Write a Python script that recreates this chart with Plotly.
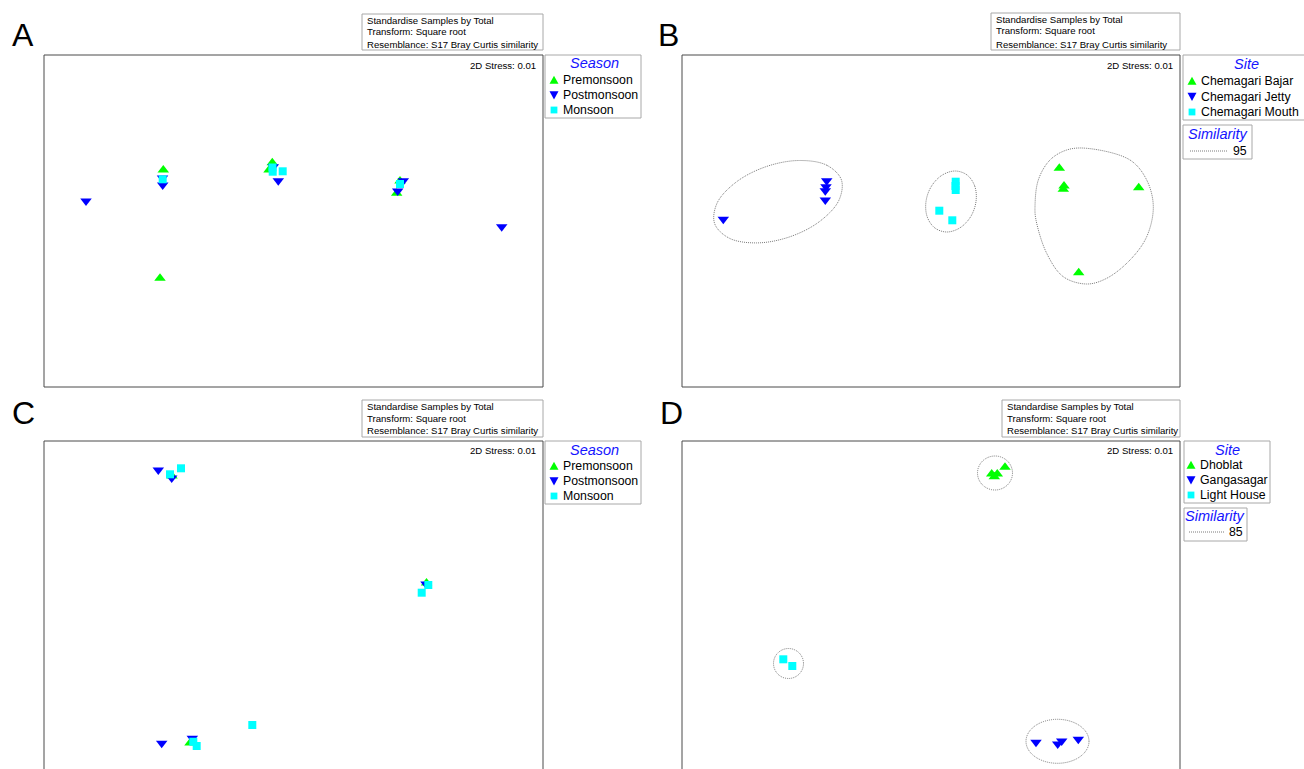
import plotly.graph_objects as go

W, H = 1304, 769
FONT = "Arial, Liberation Sans, sans-serif"
GREEN, BLUE, CYAN = "#00ff00", "#0000ff", "#00ffff"

# ---------------- data (nMDS coordinates) ----------------
# Panel A : Season
a_pre_x = [-1.302, -0.212, -0.245, 1.032, 1.065, -1.335]
a_pre_y = [0.510, 0.583, 0.510, 0.277, 0.400, -0.573]
a_post_x = [-1.308, -1.310, -0.202, -0.152, 1.098, 1.042, 2.082, -2.075]
a_post_y = [0.360, 0.430, 0.543, 0.403, 0.403, 0.300, -0.057, 0.200]
a_mon_x = [-1.308, -0.210, -0.208, -0.108, 1.065]
a_mon_y = [0.417, 0.535, 0.493, 0.497, 0.370]

# Panel B : Site (Chemagari)
b_bajar_x = [1.283, 1.330, 1.323, 2.077, 1.477]
b_bajar_y = [0.527, 0.350, 0.317, 0.333, -0.517]
b_jetty_x = [-1.043, -1.050, -1.057, -1.057, -2.077]
b_jetty_y = [0.403, 0.343, 0.303, 0.210, 0.017]
b_mouth_x = [0.247, 0.245, 0.247, 0.083, 0.213]
b_mouth_y = [0.393, 0.350, 0.310, 0.103, 0.007]
# 95 % similarity contours (panel B)
b_c_jetty_x = [-0.896, -1.041, -1.317, -1.651, -1.951, -2.139, -2.164, -2.019, -1.742, -1.409, -1.109, -0.921]
b_c_jetty_y = [0.411, 0.557, 0.605, 0.543, 0.387, 0.179, -0.025, -0.171, -0.219, -0.157, -0.001, 0.207]
b_c_mouth_x = [0.450, 0.438, 0.362, 0.243, 0.112, 0.004, -0.050, -0.038, 0.038, 0.157, 0.288, 0.396]
b_c_mouth_y = [0.195, 0.347, 0.459, 0.500, 0.459, 0.347, 0.195, 0.042, -0.069, -0.110, -0.069, 0.042]
b_c_bajar_x = [1.557, 1.990, 2.157, 2.223, 2.157, 1.990, 1.757, 1.557, 1.323, 1.157, 1.050, 1.040, 1.073, 1.190, 1.357]
b_c_bajar_y = [0.727, 0.610, 0.410, 0.143, -0.157, -0.390, -0.573, -0.630, -0.557, -0.323, 0.010, 0.143, 0.410, 0.610, 0.710]

# Panel C : Season
c_pre_x = [-1.215, 1.330, -1.035]
c_pre_y = [1.310, 0.240, -1.360]
c_post_x = [-1.352, -1.218, 1.325, -1.318, -1.012]
c_post_y = [1.370, 1.290, 0.230, -1.363, -1.313]
c_mon_x = [-1.235, -1.125, 1.348, 1.282, -1.002, -0.968, -0.412]
c_mon_y = [1.327, 1.387, 0.220, 0.143, -1.347, -1.390, -1.180]

# Panel D : Site (Sagar)
d_dhob_x = [0.607, 0.633, 0.663, 0.740]
d_dhob_y = [1.330, 1.303, 1.330, 1.397]
d_gang_x = [1.050, 1.267, 1.307, 1.473]
d_gang_y = [-1.353, -1.370, -1.340, -1.323]
d_light_x = [-1.477, -1.387]
d_light_y = [-0.523, -0.590]
# 85 % similarity contours (panel D): centre x, centre y, half-width, half-height
d_contours = [(0.640, 1.340, 0.175, 0.170), (1.265, -1.343, 0.315, 0.220), (-1.425, -0.565, 0.150, 0.150)]

season_labels = ["Premonsoon", "Postmonsoon", "Monsoon"]
site_b_labels = ["Chemagari Bajar", "Chemagari Jetty", "Chemagari Mouth"]
site_d_labels = ["Dhoblat", "Gangasagar", "Light House"]
info_lines = ["Standardise Samples by Total", "Transform: Square root",
              "Resemblance: S17 Bray Curtis similarity"]
stress_text = "2D Stress: 0.01"
sim_b, sim_d = "95", "85"

# ---------------- figure ----------------
def PX(x):
    return x / W


def PY(y):
    return 1 - y / H


fig = go.Figure()
shapes, annos = [], []
CONTOUR = dict(color="#7a7a7a", width=1, dash="1px,1px")

def pts(xs, ys, sym, col, size, ax):
    fig.add_trace(go.Scatter(x=xs, y=ys, mode="markers", showlegend=False, hoverinfo="skip",
                             marker=dict(symbol=sym, color=col, size=size, line=dict(width=0)),
                             xaxis="x" + ax, yaxis="y" + ax))

def contour(xs, ys, ax):
    fig.add_trace(go.Scatter(x=list(xs) + [xs[0]], y=list(ys) + [ys[0]], mode="lines",
                             showlegend=False, hoverinfo="skip",
                             line=dict(shape="spline", smoothing=1, **CONTOUR),
                             xaxis="x" + ax, yaxis="y" + ax))

TRI, SQ = 10, 8
# A
pts(a_pre_x, a_pre_y, "triangle-up", GREEN, TRI, "")
pts(a_post_x, a_post_y, "triangle-down", BLUE, TRI, "")
pts(a_mon_x, a_mon_y, "square", CYAN, SQ, "")
# B
contour(b_c_jetty_x, b_c_jetty_y, "2")
contour(b_c_mouth_x, b_c_mouth_y, "2")
contour(b_c_bajar_x, b_c_bajar_y, "2")
pts(b_bajar_x, b_bajar_y, "triangle-up", GREEN, TRI, "2")
pts(b_jetty_x, b_jetty_y, "triangle-down", BLUE, TRI, "2")
pts(b_mouth_x, b_mouth_y, "square", CYAN, SQ, "2")
# C
pts(c_pre_x, c_pre_y, "triangle-up", GREEN, TRI, "3")
pts(c_post_x, c_post_y, "triangle-down", BLUE, TRI, "3")
pts(c_mon_x, c_mon_y, "square", CYAN, SQ, "3")
# D
for cx, cy, rx, ry in d_contours:
    shapes.append(dict(type="circle", xref="x4", yref="y4", x0=cx - rx, x1=cx + rx,
                       y0=cy - ry, y1=cy + ry, line=CONTOUR))
pts(d_dhob_x, d_dhob_y, "triangle-up", GREEN, TRI, "4")
pts(d_gang_x, d_gang_y, "triangle-down", BLUE, TRI, "4")
pts(d_light_x, d_light_y, "square", CYAN, SQ, "4")

def text(x, y, s, size, color="black", xanchor="left"):
    annos.append(dict(x=PX(x), y=PY(y), xref="paper", yref="paper", text=s, showarrow=False,
                      xanchor=xanchor, yanchor="middle", font=dict(family=FONT, size=size, color=color)))

def box(x0, y0, x1, y1, color="#a8a8a8", fill="white"):
    shapes.append(dict(type="rect", xref="paper", yref="paper", x0=PX(x0), x1=PX(x1), y0=PY(y0), y1=PY(y1),
                       line=dict(color=color, width=1), fillcolor=fill, layer="above"))

def sym(kind, cx, cy, col):
    if kind == "up":
        p = [(cx - 4.5, cy + 3.8), (cx + 4.5, cy + 3.8), (cx, cy - 4.2)]
    elif kind == "down":
        p = [(cx - 4.5, cy - 3.8), (cx + 4.5, cy - 3.8), (cx, cy + 4.4)]
    else:
        p = [(cx - 3.4, cy - 3.4), (cx + 3.4, cy - 3.4), (cx + 3.4, cy + 3.4), (cx - 3.4, cy + 3.4)]
    path = "M " + " L ".join(f"{PX(a):.5f},{PY(b):.5f}" for a, b in p) + " Z"
    shapes.append(dict(type="path", xref="paper", yref="paper", path=path, fillcolor=col,
                       line=dict(width=0), layer="above"))

panels = [
    # letter, letter pos, frame, info box, info text x, info ys, stress pos
    ("A", (23, 35), (44, 55, 543, 387), (362, 14, 543, 50), 365, (20, 32, 44), (538, 65)),
    ("B", (668, 35), (682, 55, 1180, 387), (991, 13, 1180, 50), 994, (19, 31, 44), (1175, 65)),
    ("C", (23, 413), (44, 441, 543, 775), (362, 400, 543, 437), 365, (406, 418, 430), (538, 450)),
    ("D", (671, 413), (682, 441, 1180, 775), (1002, 400, 1180, 437), 1005, (406, 418, 430), (1175, 450)),
]
for letter, lp, fr, ib, itx, iys, sp in panels:
    text(lp[0], lp[1], letter, 32, xanchor="center")
    box(fr[0], fr[1], fr[2], fr[3], color="#4a4a4a", fill="rgba(0,0,0,0)")
    box(*ib)
    for yy, s in zip(iys, info_lines):
        text(itx, yy, s, 9.6)
    text(sp[0], sp[1], stress_text, 9.6, xanchor="right")

kinds = ["up", "down", "sq"]
cols = [GREEN, BLUE, CYAN]
TITLE = "#1515ff"
# Legend A and C (Season)
for y0 in (55, 441):
    box(545, y0, 641, y0 + 63)
    text(594, y0 + 8.5, "<i>Season</i>", 14.5, TITLE, "center")
    for i, lab in enumerate(season_labels):
        yy = y0 + 25 + 15 * i
        sym(kinds[i], 554, yy, cols[i])
        text(561, yy, lab, 12.3)
# Legend B (Site)
box(1183, 55, 1312, 120)
text(1246, 64, "<i>Site</i>", 14.5, TITLE, "center")
for i, lab in enumerate(site_b_labels):
    yy = 81 + 15.5 * i
    sym(kinds[i], 1192, yy, cols[i])
    text(1199, yy, lab, 12.3)
box(1183, 125, 1252, 159)
text(1218, 134, "<i>Similarity</i>", 14.5, TITLE, "center")
shapes.append(dict(type="line", xref="paper", yref="paper", x0=PX(1190), x1=PX(1227), y0=PY(151), y1=PY(151),
                   line=CONTOUR))
text(1249, 151, sim_b, 12.3, xanchor="right")
# Legend D (Site)
box(1184, 441, 1270, 503)
text(1227, 450, "<i>Site</i>", 14.5, TITLE, "center")
for i, lab in enumerate(site_d_labels):
    yy = 465 + 15 * i
    sym(kinds[i], 1191, yy, cols[i])
    text(1198, yy, lab, 12.3)
box(1184, 508, 1247, 541)
text(1215, 516, "<i>Similarity</i>", 14.5, TITLE, "center")
shapes.append(dict(type="line", xref="paper", yref="paper", x0=PX(1189), x1=PX(1224), y0=PY(532), y1=PY(532),
                   line=CONTOUR))
text(1245, 532, sim_d, 12.3, xanchor="right")

ax_common = dict(visible=False, showgrid=False, zeroline=False, fixedrange=True)
fig.update_layout(
    width=W, height=H, margin=dict(l=0, r=0, t=0, b=0, pad=0),
    paper_bgcolor="white", plot_bgcolor="white", showlegend=False,
    xaxis=dict(domain=[PX(44), PX(543)], range=[-2.495, 2.495], **ax_common),
    yaxis=dict(domain=[PY(387), PY(55)], range=[-1.66, 1.66], **ax_common),
    xaxis2=dict(domain=[PX(682), PX(1180)], range=[-2.49, 2.49], **ax_common),
    yaxis2=dict(domain=[PY(387), PY(55)], range=[-1.66, 1.66], **ax_common),
    xaxis3=dict(domain=[PX(44), PX(543)], range=[-2.495, 2.495], **ax_common),
    yaxis3=dict(domain=[0, PY(441)], range=[-1.62, 1.66], **ax_common),
    xaxis4=dict(domain=[PX(682), PX(1180)], range=[-2.49, 2.49], **ax_common),
    yaxis4=dict(domain=[0, PY(441)], range=[-1.62, 1.66], **ax_common),
    shapes=shapes, annotations=annos,
)
fig.write_html("out.html", config={"displayModeBar": False},
               post_script="document.body.style.margin='0';document.body.style.overflow='hidden';")
